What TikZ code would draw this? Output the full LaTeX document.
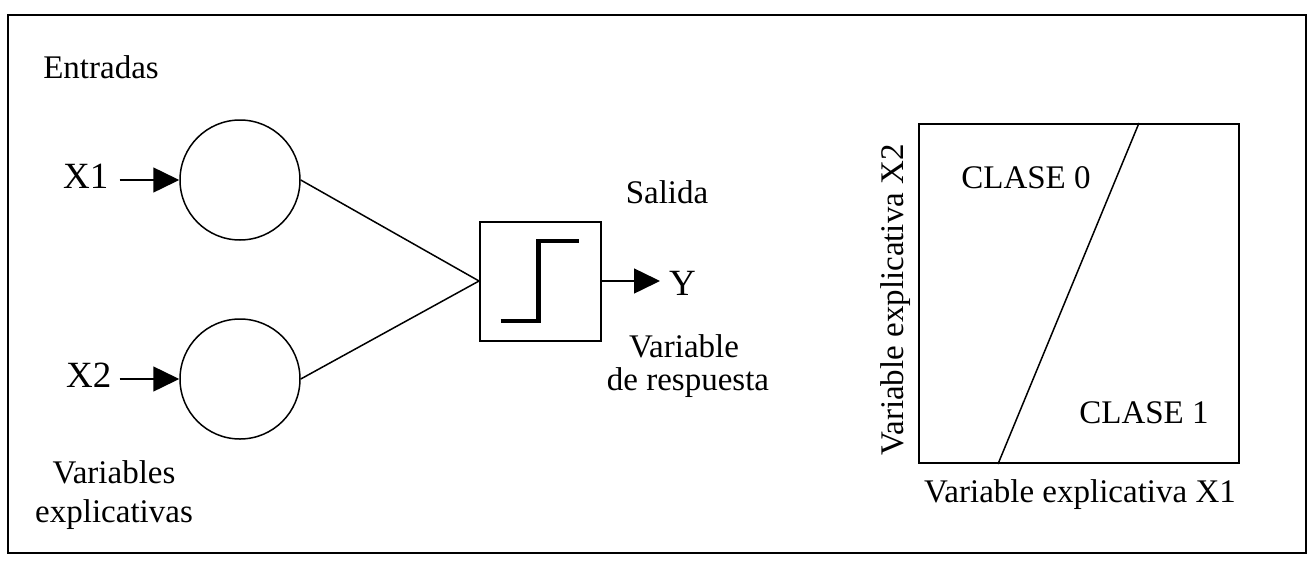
\documentclass[tikz,border=0pt]{standalone}
\usepackage{fontspec}
\setmainfont{Liberation Serif}
\usetikzlibrary{arrows.meta}
\begin{document}
\begin{tikzpicture}[x=1pt,y=-1pt,
  lbl/.style={inner sep=0pt,font=\fontsize{33}{38}\selectfont},
  big/.style={inner sep=0pt,font=\fontsize{37}{42}\selectfont},
  neuron/.style={circle,draw,line width=1.5pt,minimum size=120pt,inner sep=0pt},
  sbox/.style={draw,line width=2pt,minimum width=121pt,minimum height=119pt,inner sep=0pt},
  pbox/.style={draw,line width=2pt,minimum width=320pt,minimum height=339pt,inner sep=0pt},
  conn/.style={line width=1.5pt},
  arr/.style={line width=1.5pt,-{Triangle[length=26pt,width=25pt]}}]
\useasboundingbox (0,0) rectangle (1315,560);
\fill[white] (0,0) rectangle (1315,560);
\draw[line width=2pt] (8,15) rectangle (1306,553);
% left network
\node[lbl,anchor=base] (ent) at (101,78) {Entradas};
\node[neuron] (c1) at (240,180) {};
\node[neuron] (c2) at (240,379) {};
\node[big,anchor=base west] (x1) at (63,188) {X1};
\node[big,anchor=base west] (x2) at (66,387) {X2};
\draw[arr] ([xshift=11pt]x1.east |- c1.west) -- (c1.west);
\draw[arr] ([xshift=8pt]x2.east |- c2.west) -- (c2.west);
\node[lbl,anchor=base] (ve1) at (114,483) {Variables};
\node[lbl,anchor=base] (ve2) at (114,522) {explicativas};
\node[sbox] (sb) at (540.5,281) {};
\draw[conn] (c1.east) -- (sb.west);
\draw[conn] (c2.east) -- (sb.west);
\draw[line width=4.5pt] ([shift={(-40,40)}]sb.center) -- ([shift={(-2,40)}]sb.center)
  -- ([shift={(-2,-40)}]sb.center) -- ([shift={(38,-40)}]sb.center);
\node[lbl,anchor=base] (sal) at (667,203) {Salida};
\node[big,anchor=base west] (y) at (669,295) {Y};
\draw[arr] (sb.east) -- ([xshift=-9pt]y.west |- sb.east);
\node[lbl,anchor=base] (vr1) at (684,357) {Variable};
\node[lbl,anchor=base] (vr2) at (688,390) {de respuesta};
% right plot
\node[pbox] (plot) at (1079,293.5) {};
\draw[conn] ([xshift=221pt]plot.north west) -- ([xshift=80pt]plot.south west);
\node[lbl,anchor=base] (cl0) at (1026,188) {CLASE 0};
\node[lbl,anchor=base] (cl1) at (1144,423) {CLASE 1};
\node[lbl,anchor=base] (ax1) at (1080,502) {Variable explicativa X1};
\node[lbl,anchor=base,rotate=90] (ax2) at (903,300) {Variable explicativa X2};
\end{tikzpicture}
\end{document}
